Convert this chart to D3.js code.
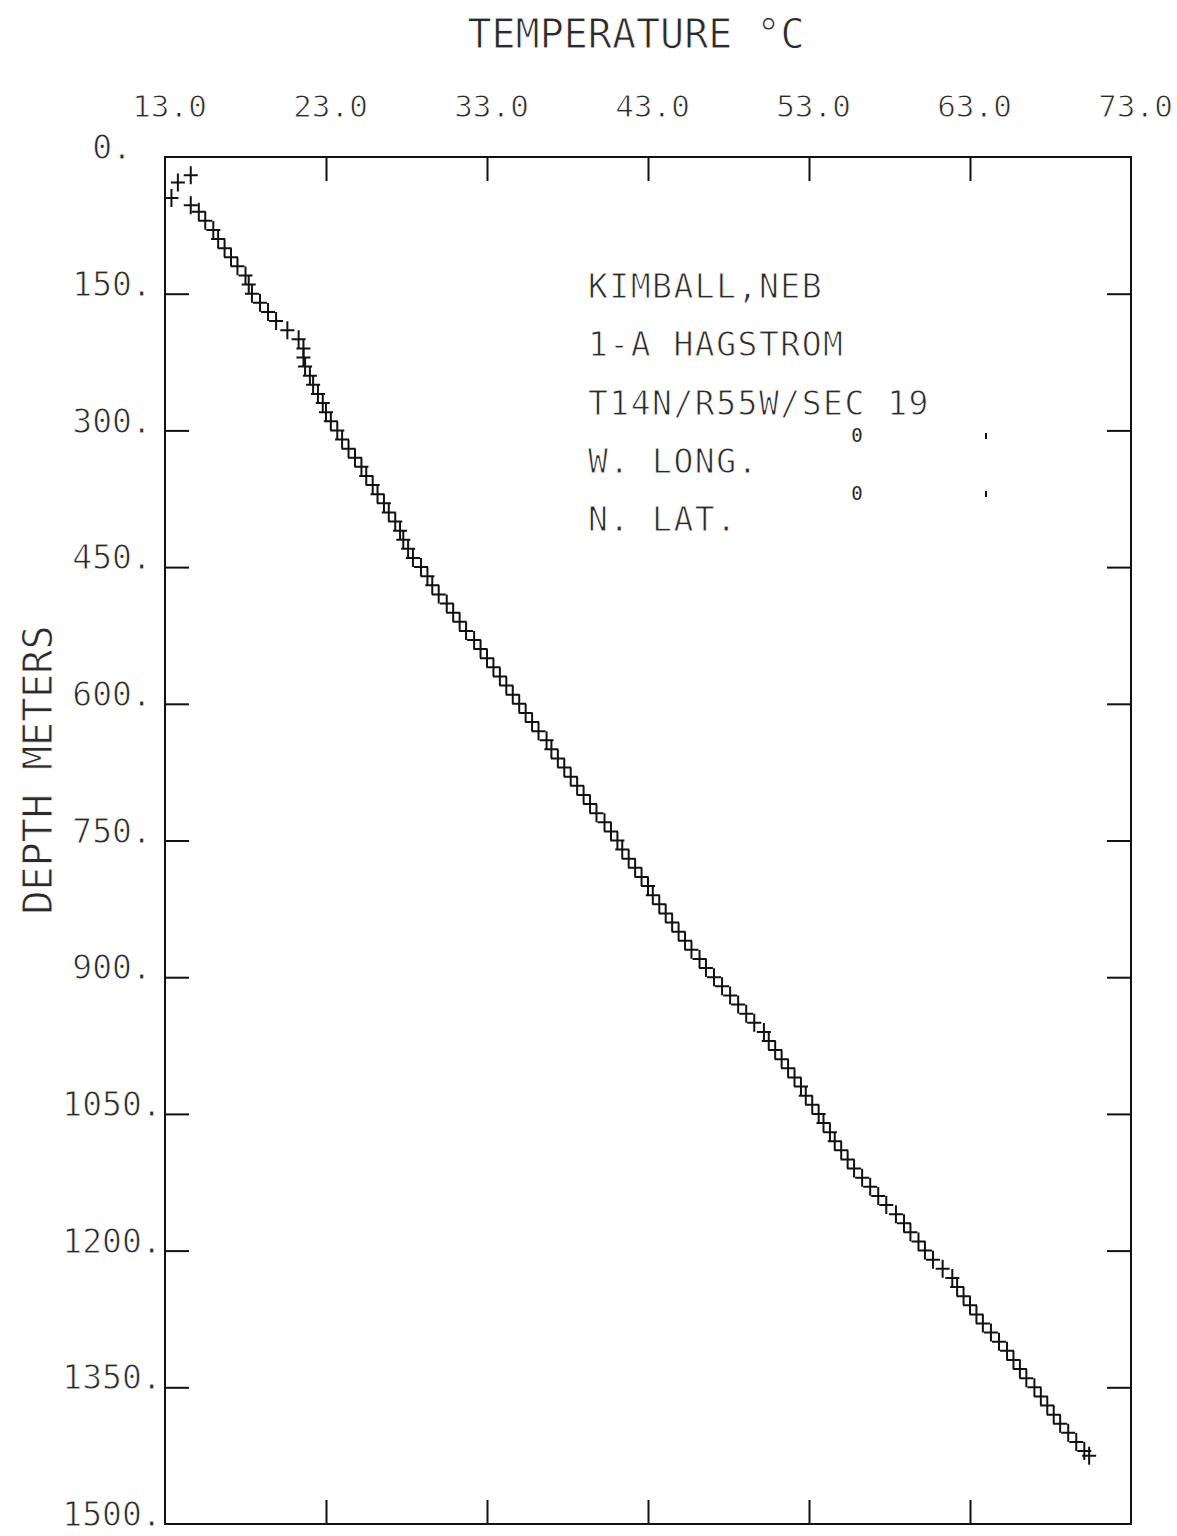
<!DOCTYPE html>
<html>
<head>
<meta charset="utf-8">
<script src="https://cdn.jsdelivr.net/npm/d3@7"></script>
<style>
  html, body { margin: 0; padding: 0; background: #fff; }
  svg { display: block; }
  text { font-family: "DejaVu Sans Mono", monospace; fill: #2a2a2a; stroke: #fff; stroke-width: 0.9px; }
</style>
</head>
<body>
<svg id="chart" width="1177" height="1536"></svg>
<script>
// ---- data ----
const xTicks = [13, 23, 33, 43, 53, 63, 73];          // temperature, deg C
const yTicks = [0, 150, 300, 450, 600, 750, 900, 1050, 1200, 1350, 1500]; // depth, m
const depths = [20, 28, 45, 53, 60, 70, 80, 90, 100, 110, 120, 130, 140, 150, 160, 170, 180, 190, 200,
  210, 220, 230, 240, 250, 260, 270, 280, 290, 300, 310, 320, 330, 340, 350, 360, 370, 380, 390, 400,
  410, 420, 430, 440, 450, 460, 470, 480, 490, 500, 510, 520, 530, 540, 550, 560, 570, 580, 590, 600,
  610, 620, 630, 640, 650, 660, 670, 680, 690, 700, 710, 720, 730, 740, 750, 760, 770, 780, 790, 800,
  810, 820, 830, 840, 850, 860, 870, 880, 890, 900, 910, 920, 930, 940, 950, 960, 970, 980, 990, 1000,
  1010, 1020, 1030, 1040, 1050, 1060, 1070, 1080, 1090, 1100, 1110, 1120, 1130, 1140, 1150, 1160, 1170,
  1180, 1190, 1200, 1210, 1220, 1230, 1240, 1250, 1260, 1270, 1280, 1290, 1300, 1310, 1320, 1330, 1340,
  1350, 1360, 1370, 1380, 1390, 1400, 1410, 1420, 1425];
const temps = [14.6, 13.8, 13.4, 14.6, 15.1, 15.5, 16.0, 16.3, 16.7, 17.1, 17.5, 18.0, 18.2, 18.4, 18.9, 19.4, 19.9, 20.6, 21.3,
  21.6, 21.6, 21.7, 22.0, 22.2, 22.5, 22.8, 23.0, 23.3, 23.7, 24.0, 24.4, 24.8, 25.2, 25.5, 25.9, 26.2, 26.6, 26.9, 27.3,
  27.6, 27.8, 28.1, 28.4, 28.9, 29.3, 29.6, 30.0, 30.5, 30.9, 31.3, 31.7, 32.2, 32.6, 33.0, 33.4, 33.8, 34.2, 34.6, 35.0,
  35.4, 35.8, 36.2, 36.7, 37.0, 37.4, 37.8, 38.2, 38.6, 39.0, 39.4, 39.8, 40.3, 40.7, 41.1, 41.4, 41.8, 42.2, 42.6, 43.0,
  43.3, 43.7, 44.1, 44.5, 44.9, 45.3, 45.7, 46.2, 46.6, 47.1, 47.6, 48.1, 48.6, 49.1, 49.6, 50.2, 50.5, 50.9, 51.3, 51.7,
  52.1, 52.5, 52.8, 53.2, 53.6, 53.9, 54.3, 54.6, 55.0, 55.4, 55.8, 56.3, 56.8, 57.3, 57.8, 58.4, 58.9,
  59.3, 59.8, 60.2, 60.7, 61.3, 61.9, 62.2, 62.6, 63.0, 63.4, 63.8, 64.3, 64.8, 65.3, 65.7, 66.1, 66.5,
  67.0, 67.4, 67.8, 68.2, 68.6, 69.1, 69.6, 70.1, 70.4];
const titleText = "TEMPERATURE \u00B0C";
const yTitleText = "DEPTH  METERS";
const infoLines = ["KIMBALL,NEB", "1-A HAGSTROM", "T14N/R55W/SEC 19", "W. LONG.", "N. LAT."];

// ---- layout ----
const L = 165, R = 1131, T = 157, B = 1524;
const svg = d3.select("#chart");
const x = d3.scaleLinear().domain([13, 73]).range([L, R]);
const y = d3.scaleLinear().domain([0, 1500]).range([T, B]);
const ink = "#111";

// frame
svg.append("rect").attr("x", L).attr("y", T).attr("width", R - L).attr("height", B - T)
  .attr("fill", "none").attr("stroke", ink).attr("stroke-width", 2);

const inner = xTicks.slice(1, -1);
const innerY = yTicks.slice(1, -1);
const tickLen = 24;

// top axis: labels + inward ticks
const gTop = svg.append("g").attr("transform", `translate(0,${T})`)
  .call(d3.axisTop(x).tickValues(xTicks).tickSize(0).tickPadding(40).tickFormat(d => d.toFixed(1)));
gTop.select(".domain").remove();
gTop.selectAll("text").attr("font-size", 31).attr("font-family", "DejaVu Sans Mono").attr("fill", "#2a2a2a")
  .attr("dx", 4);
svg.append("g").attr("transform", `translate(0,${T})`)
  .call(d3.axisTop(x).tickValues(inner).tickSize(-tickLen).tickFormat(""))
  .call(g => g.select(".domain").remove())
  .selectAll("line").attr("stroke", ink).attr("stroke-width", 2);
// bottom ticks
svg.append("g").attr("transform", `translate(0,${B})`)
  .call(d3.axisBottom(x).tickValues(inner).tickSize(-tickLen).tickFormat(""))
  .call(g => g.select(".domain").remove())
  .selectAll("line").attr("stroke", ink).attr("stroke-width", 2);

// left axis: labels centred in the margin, as the plotter wrote them
const gLeft = svg.append("g").attr("transform", `translate(${L},0)`)
  .call(d3.axisLeft(y).tickValues(yTicks).tickSize(0).tickPadding(53).tickFormat(d => d + "."));
gLeft.select(".domain").remove();
gLeft.selectAll("text").attr("font-size", 33).attr("font-family", "DejaVu Sans Mono")
  .attr("fill", "#2a2a2a").attr("text-anchor", "middle").attr("dy", "0.05em");
svg.append("g").attr("transform", `translate(${L},0)`)
  .call(d3.axisLeft(y).tickValues(innerY).tickSize(-tickLen).tickFormat(""))
  .call(g => g.select(".domain").remove())
  .selectAll("line").attr("stroke", ink).attr("stroke-width", 2);
svg.append("g").attr("transform", `translate(${R},0)`)
  .call(d3.axisRight(y).tickValues(innerY).tickSize(-tickLen).tickFormat(""))
  .call(g => g.select(".domain").remove())
  .selectAll("line").attr("stroke", ink).attr("stroke-width", 2);

// titles
svg.append("text").attr("x", 636).attr("y", 48).attr("text-anchor", "middle")
  .attr("font-size", 40).text(titleText);
svg.append("text").attr("transform", "translate(52,770) rotate(-90)").attr("text-anchor", "middle")
  .attr("font-size", 40).text(yTitleText);

// info block
const infoY = [298, 356, 415, 473, 531];
svg.append("g").selectAll("text").data(infoLines).join("text")
  .attr("x", 588).attr("y", (d, i) => infoY[i]).attr("font-size", 33)
  .attr("letter-spacing", 1.5).text(d => d);
[infoY[3], infoY[4]].forEach(by => {
  svg.append("text").attr("x", 857).attr("y", by - 31).attr("font-size", 19)
    .attr("text-anchor", "middle").style("stroke", "none").text("0");
  svg.append("line").attr("x1", 986).attr("x2", 986).attr("y1", by - 40).attr("y2", by - 34)
    .attr("stroke", ink).attr("stroke-width", 2);
});

// data markers "+"
const pts = depths.map((d, i) => ({ d, t: temps[i] }));
const hv = 9, hh = 7;
const mk = svg.append("g").attr("stroke", ink).attr("stroke-width", 2).attr("fill", "none");
mk.selectAll("path").data(pts).join("path")
  .attr("d", p => {
    const cx = x(p.t), cy = y(p.d);
    return `M${cx - hh},${cy}H${cx + hh}M${cx},${cy - hv}V${cy + hv}`;
  });
</script>
</body>
</html>
